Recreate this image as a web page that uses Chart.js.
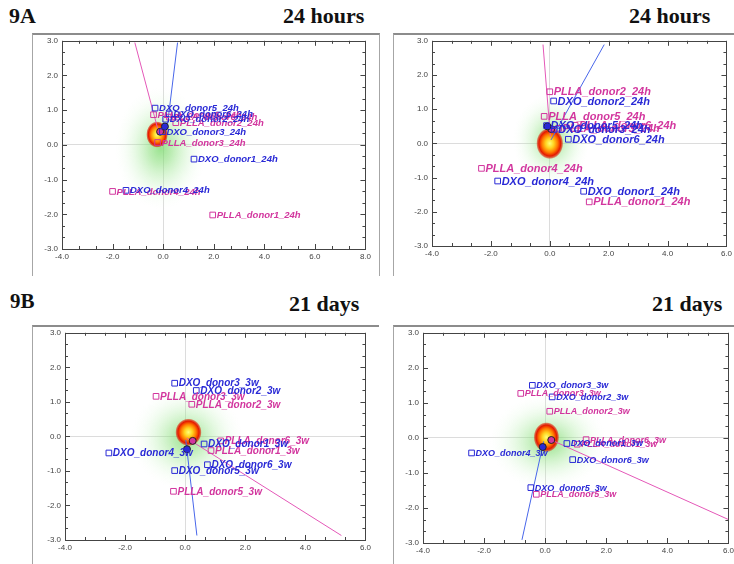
<!DOCTYPE html>
<html>
<head>
<meta charset="utf-8">
<script src="https://cdn.jsdelivr.net/npm/chart.js@4.4.1/dist/chart.umd.min.js"></script>
<style>
  html, body { margin: 0; padding: 0; background: #fff; }
  body { width: 734px; height: 564px; position: relative; overflow: hidden; }
  .head { position: absolute; font-family: "Liberation Serif", "Times New Roman", serif; font-weight: bold;
          font-size: 22px; line-height: 22px; color: #111; white-space: nowrap; }
  .frame { position: absolute; border-top: 2px solid #8c8c8c; border-left: 1px solid #a6a6a6; }
  canvas { position: absolute; }
</style>
</head>
<body>
<div class="head" style="left:9px;top:5px">9A</div>
<div class="head" style="left:283px;top:5px">24 hours</div>
<div class="head" style="left:629px;top:5px">24 hours</div>
<div class="head" style="left:10px;top:290px;font-size:21px">9B</div>
<div class="head" style="left:289px;top:293px">21 days</div>
<div class="head" style="left:652px;top:293px">21 days</div>

<div class="frame" style="left:32px;top:33px;width:346px;height:241px;border-right:1px solid #a6a6a6"></div>
<div class="frame" style="left:393px;top:33px;width:400px;height:241px"></div>
<div class="frame" style="left:32px;top:325px;width:346px;height:250px"></div>
<div class="frame" style="left:393px;top:325px;width:400px;height:250px"></div>

<canvas id="c24a"></canvas>
<canvas id="c24b"></canvas>
<canvas id="c21a"></canvas>
<canvas id="c21b"></canvas>

<script>
// ---- tick labels ----
var yTicks = [-3, -2, -1, 0, 1, 2, 3];
var xTicksWide = [-4, -2, 0, 2, 4, 6, 8];
var xTicksNarrow = [-4, -2, 0, 2, 4, 6];

// ---- point names ----
var dxoNames24 = ['DXO_donor1_24h', 'DXO_donor2_24h', 'DXO_donor3_24h', 'DXO_donor4_24h', 'DXO_donor5_24h', 'DXO_donor6_24h'];
var pllaNames24 = ['PLLA_donor1_24h', 'PLLA_donor2_24h', 'PLLA_donor3_24h', 'PLLA_donor4_24h', 'PLLA_donor5_24h', 'PLLA_donor6_24h'];
var dxoNames3w = ['DXO_donor1_3w', 'DXO_donor2_3w', 'DXO_donor3_3w', 'DXO_donor4_3w', 'DXO_donor5_3w', 'DXO_donor6_3w'];
var pllaNames3w = ['PLLA_donor1_3w', 'PLLA_donor2_3w', 'PLLA_donor3_3w', 'PLLA_donor5_3w', 'PLLA_donor6_3w'];

// ---- 24 hours, left ----
var dxoX_24a = [1.22, 0.10, -0.03, -1.47, -0.32, 0.24];
var dxoY_24a = [-0.41, 0.74, 0.38, -1.31, 1.06, 0.89];
var pllaX_24a = [1.96, 0.50, -0.22, -2.00, -0.38, 0.25];
var pllaY_24a = [-2.02, 0.64, 0.07, -1.34, 0.87, 0.80];
var vecDxoX_24a = [0.17, 0.57], vecDxoY_24a = [0.58, 2.95];
var vecPllaX_24a = [-0.22, -1.12], vecPllaY_24a = [0.48, 2.95];
var baseX_24a = [-0.12, 0.07], baseY_24a = [0.38, 0.53];   // PLLA, DXO

// ---- 24 hours, right ----
var dxoX_24b = [1.15, 0.13, 0.15, -1.77, -0.11, 0.63];
var dxoY_24b = [-1.40, 1.24, 0.41, -1.10, 0.52, 0.12];
var pllaX_24b = [1.34, 0.00, 0.30, -2.32, -0.19, 0.86];
var pllaY_24b = [-1.71, 1.51, 0.44, -0.73, 0.79, 0.53];
var vecDxoX_24b = [0.04, 1.85], vecDxoY_24b = [0.10, 2.89];
var vecPllaX_24b = [0.02, -0.23], vecPllaY_24b = [0.20, 2.89];
var baseX_24b = [0.05, -0.08], baseY_24b = [0.42, 0.50];

// ---- 21 days, left ----
var dxoX_21a = [0.63, 0.37, -0.35, -2.54, -0.35, 0.74];
var dxoY_21a = [-0.22, 1.33, 1.54, -0.48, -0.99, -0.82];
var pllaX_21a = [0.86, 0.22, -0.97, -0.39, 1.18];
var pllaY_21a = [-0.41, 0.93, 1.16, -1.59, -0.13];
var vecDxoX_21a = [0.02, 0.39], vecDxoY_21a = [-0.10, -2.87];
var vecPllaX_21a = [0.05, 5.20], vecPllaY_21a = [-0.05, -2.87];
var baseX_21a = [0.25, 0.06], baseY_21a = [-0.13, -0.37];

// ---- 21 days, right ----
var dxoX_21b = [0.71, 0.23, -0.42, -2.41, -0.47, 0.90];
var dxoY_21b = [-0.16, 1.17, 1.50, -0.43, -1.42, -0.62];
var pllaX_21b = [1.05, 0.15, -0.80, -0.29, 1.34];
var pllaY_21b = [-0.18, 0.76, 1.27, -1.61, -0.05];
var vecDxoX_21b = [-0.05, -0.76], vecDxoY_21b = [-0.10, -2.91];
var vecPllaX_21b = [0.20, 6.00], vecPllaY_21b = [-0.06, -2.33];
var baseX_21b = [0.20, -0.08], baseY_21b = [-0.06, -0.26];

var BLUE = '#2a2ad6', PINK = '#d2369e';

function pts(xs, ys) {
    return xs.map(function (x, i) { return { x: x, y: ys[i] }; });
}

// density blob under the points
function ellipse(ctx, cx, cy, rx, ry, stops) {
    ctx.save();
    ctx.translate(cx, cy);
    ctx.scale(1, ry / rx);
    var g = ctx.createRadialGradient(0, 0, 0, 0, 0, rx);
    stops.forEach(function (s) { g.addColorStop(s[0], s[1]); });
    ctx.fillStyle = g;
    ctx.beginPath();
    ctx.arc(0, 0, rx, 0, Math.PI * 2);
    ctx.fill();
    ctx.restore();
}

var blobPlugin = {
    id: 'blob',
    beforeDatasetsDraw: function (chart, args, opts) {
        var ctx = chart.ctx, x = chart.scales.x, y = chart.scales.y, a = chart.chartArea;
        ctx.save();
        ctx.beginPath();
        ctx.rect(a.left, a.top, a.width, a.height);
        ctx.clip();
        var h = opts.halo, c = opts.core;
        ellipse(ctx, x.getPixelForValue(h[0]), y.getPixelForValue(h[1]),
            x.getPixelForValue(h[0] + h[2]) - x.getPixelForValue(h[0]),
            y.getPixelForValue(h[1]) - y.getPixelForValue(h[1] + h[3]),
            [[0, 'rgba(110,215,95,0.7)'], [0.25, 'rgba(135,222,120,0.55)'], [0.55, 'rgba(170,235,160,0.3)'],
             [0.8, 'rgba(205,245,200,0.12)'], [1, 'rgba(230,250,225,0)']]);
        ellipse(ctx, x.getPixelForValue(c[0]), y.getPixelForValue(c[1]),
            x.getPixelForValue(c[0] + c[2]) - x.getPixelForValue(c[0]),
            y.getPixelForValue(c[1]) - y.getPixelForValue(c[1] + c[3]),
            [[0, '#ffff78'], [0.3, '#ffd420'], [0.58, '#ff7a00'], [0.8, '#e61a00'], [0.92, 'rgba(225,25,0,0.6)'], [1, 'rgba(225,40,0,0)']]);
        ctx.restore();
    }
};

// box round the plot with inward tick marks on all four sides
var frameTicks = {
    id: 'frameTicks',
    afterDatasetsDraw: function (chart) {
        var ctx = chart.ctx, a = chart.chartArea, x = chart.scales.x, y = chart.scales.y;
        ctx.save();
        ctx.strokeStyle = '#444';
        ctx.lineWidth = 1;
        ctx.strokeRect(Math.round(a.left) + 0.5, Math.round(a.top) + 0.5, Math.round(a.width), Math.round(a.height));
        ctx.beginPath();
        var n = Math.round((x.max - x.min) * 1.5);
        for (var k = 0; k <= n; k++) {
            var px = Math.round(x.getPixelForValue(x.min + k * 2 / 3)) + 0.5;
            var len = (k % 3 === 0) ? 5 : 3;
            ctx.moveTo(px, a.bottom); ctx.lineTo(px, a.bottom - len);
            ctx.moveTo(px, a.top); ctx.lineTo(px, a.top + len);
        }
        var m = Math.round((y.max - y.min) * 3);
        for (var j = 0; j <= m; j++) {
            var py = Math.round(y.getPixelForValue(y.min + j / 3)) + 0.5;
            var ln = (j % 3 === 0) ? 5 : 3;
            ctx.moveTo(a.left, py); ctx.lineTo(a.left + ln, py);
            ctx.moveTo(a.right, py); ctx.lineTo(a.right - ln, py);
        }
        ctx.stroke();
        ctx.restore();
    }
};

// text next to each square marker
var pointText = {
    id: 'pointText',
    afterDatasetsDraw: function (chart, args, opts) {
        var ctx = chart.ctx;
        ctx.save();
        ctx.font = 'italic bold ' + opts.size + 'px "Liberation Sans", Arial, sans-serif';
        ctx.textBaseline = 'middle';
        [1, 0].forEach(function (i) {
            var ds = chart.data.datasets[i];
            var meta = chart.getDatasetMeta(i);
            ctx.fillStyle = ds.borderColor;
            meta.data.forEach(function (p, j) {
                ctx.fillText(ds.names[j], p.x + 4, p.y + 0.5);
            });
        });
        ctx.restore();
    }
};

function makeBiplot(id, box, xTicks, p) {
    var cv = document.getElementById(id);
    cv.width = box[2] + 38;
    cv.height = box[3] + 26;
    cv.style.left = (box[0] - 30) + 'px';
    cv.style.top = (box[1] - 8) + 'px';

    var tickFont = { family: '"Liberation Sans", Arial, sans-serif', size: 8 };
    var zeroGrid = function (c) { return c.tick && c.tick.value === 0 ? '#dcdcdc' : 'rgba(0,0,0,0)'; };

    return new Chart(cv.getContext('2d'), {
        type: 'scatter',
        data: {
            datasets: [
                { data: pts(p.dxoX, p.dxoY), names: p.dxoNames, pointStyle: 'rect', pointRadius: 4,
                  borderColor: BLUE, backgroundColor: 'rgba(0,0,0,0)', borderWidth: 1 },
                { data: pts(p.pllaX, p.pllaY), names: p.pllaNames, pointStyle: 'rect', pointRadius: 4,
                  borderColor: PINK, backgroundColor: 'rgba(0,0,0,0)', borderWidth: 1 },
                { data: pts(p.baseX, p.baseY), pointRadius: 3.5, borderColor: '#222', borderWidth: 1,
                  backgroundColor: ['#d2369e', '#2a2ad6'] },
                { type: 'line', data: pts(p.vecPllaX, p.vecPllaY), borderColor: '#e458b8', borderWidth: 1,
                  pointRadius: 0, fill: false },
                { type: 'line', data: pts(p.vecDxoX, p.vecDxoY), borderColor: '#4866ea', borderWidth: 1,
                  pointRadius: 0, fill: false }
            ]
        },
        options: {
            responsive: false,
            animation: false,
            events: [],
            layout: { padding: { left: 0, top: 8, right: 8, bottom: 0 } },
            scales: {
                x: {
                    type: 'linear', min: xTicks[0], max: xTicks[xTicks.length - 1],
                    afterFit: function (s) { s.height = 18; },
                    border: { display: false },
                    grid: { color: zeroGrid, drawTicks: false, lineWidth: 1 },
                    ticks: { stepSize: 2, padding: 3, color: '#444', font: tickFont, maxRotation: 0,
                             callback: function (v) { return v.toFixed(1); } }
                },
                y: {
                    type: 'linear', min: yTicks[0], max: yTicks[yTicks.length - 1],
                    afterFit: function (s) { s.width = 30; },
                    border: { display: false },
                    grid: { color: zeroGrid, drawTicks: false, lineWidth: 1 },
                    ticks: { stepSize: 1, padding: 4, color: '#444', font: tickFont,
                             callback: function (v) { return v.toFixed(1); } }
                }
            },
            plugins: {
                legend: { display: false },
                tooltip: { enabled: false },
                blob: { core: p.core, halo: p.halo },
                pointText: { size: p.textSize }
            }
        },
        plugins: [blobPlugin, frameTicks, pointText]
    });
}

makeBiplot('c24a', [62, 40, 304, 209], xTicksWide, {
    dxoX: dxoX_24a, dxoY: dxoY_24a, pllaX: pllaX_24a, pllaY: pllaY_24a,
    dxoNames: dxoNames24, pllaNames: pllaNames24,
    vecDxoX: vecDxoX_24a, vecDxoY: vecDxoY_24a, vecPllaX: vecPllaX_24a, vecPllaY: vecPllaY_24a,
    baseX: baseX_24a, baseY: baseY_24a,
    core: [-0.24, 0.30, 0.43, 0.38], halo: [-0.1, -0.1, 1.8, 1.75], textSize: 9.5
});

makeBiplot('c24b', [432, 40, 295, 206], xTicksNarrow, {
    dxoX: dxoX_24b, dxoY: dxoY_24b, pllaX: pllaX_24b, pllaY: pllaY_24b,
    dxoNames: dxoNames24, pllaNames: pllaNames24,
    vecDxoX: vecDxoX_24b, vecDxoY: vecDxoY_24b, vecPllaX: vecPllaX_24b, vecPllaY: vecPllaY_24b,
    baseX: baseX_24b, baseY: baseY_24b,
    core: [0.0, 0.0, 0.46, 0.46], halo: [0.05, 0.1, 1.3, 1.35], textSize: 11
});

makeBiplot('c21a', [65, 332, 301, 208], xTicksNarrow, {
    dxoX: dxoX_21a, dxoY: dxoY_21a, pllaX: pllaX_21a, pllaY: pllaY_21a,
    dxoNames: dxoNames3w, pllaNames: pllaNames3w,
    vecDxoX: vecDxoX_21a, vecDxoY: vecDxoY_21a, vecPllaX: vecPllaX_21a, vecPllaY: vecPllaY_21a,
    baseX: baseX_21a, baseY: baseY_21a,
    core: [0.11, 0.12, 0.44, 0.40], halo: [0.05, -0.05, 1.85, 1.5], textSize: 10
});

makeBiplot('c21b', [423, 332, 306, 211], xTicksNarrow, {
    dxoX: dxoX_21b, dxoY: dxoY_21b, pllaX: pllaX_21b, pllaY: pllaY_21b,
    dxoNames: dxoNames3w, pllaNames: pllaNames3w,
    vecDxoX: vecDxoX_21b, vecDxoY: vecDxoY_21b, vecPllaX: vecPllaX_21b, vecPllaY: vecPllaY_21b,
    baseX: baseX_21b, baseY: baseY_21b,
    core: [0.04, 0.02, 0.42, 0.43], halo: [0.1, -0.12, 1.9, 1.35], textSize: 9
});
</script>
</body>
</html>
